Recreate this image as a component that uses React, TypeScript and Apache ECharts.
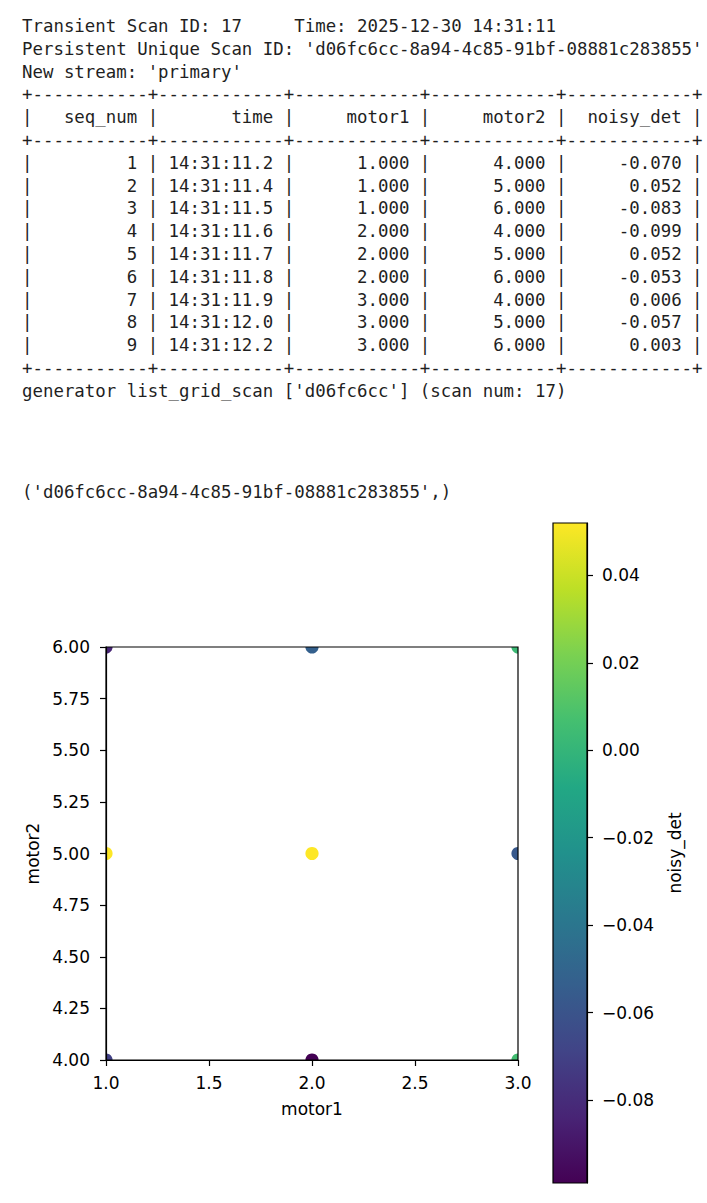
import React, { useEffect, useRef } from "react";
import * as echarts from "echarts";

// ---- data ----
const scanId = 17;
const scanTime = "2025-12-30 14:31:11";
const scanUid = "d06fc6cc-8a94-4c85-91bf-08881c283855";
const streamName = "primary";
const planName = "list_grid_scan";

const columnHeaders = ["seq_num", "time", "motor1", "motor2", "noisy_det"];
const seqNum = [1, 2, 3, 4, 5, 6, 7, 8, 9];
const times = [
  "14:31:11.2", "14:31:11.4", "14:31:11.5", "14:31:11.6", "14:31:11.7",
  "14:31:11.8", "14:31:11.9", "14:31:12.0", "14:31:12.2",
];
const motor1 = [1, 1, 1, 2, 2, 2, 3, 3, 3];
const motor2 = [4, 5, 6, 4, 5, 6, 4, 5, 6];
const noisyDet = [-0.07, 0.052, -0.083, -0.099, 0.052, -0.053, 0.006, -0.057, 0.003];

const colorbarTicks = [-0.08, -0.06, -0.04, -0.02, 0, 0.02, 0.04];

// viridis colormap stops
const viridis = [
  "#440154", "#482475", "#414487", "#355f8d", "#2a788e", "#21918c",
  "#22a884", "#44bf70", "#7ad151", "#bddf26", "#fde725",
];

// ---- layout constants ----
const W = 707;
const H = 1203;
const TEXT_LEFT = 22;
const CHAR_W = 10.47;
const LINE_H = 22.8;
const FIRST_LINE_Y = 26;
const MONO = '"DejaVu Sans Mono", monospace';
const SANS = '"DejaVu Sans", sans-serif';
const TEXT_COLOR = "#1f1f1f";

const colWidths = [11, 12, 12, 12, 12];

function buildLines(): string[] {
  const border = "+" + colWidths.map((w) => "-".repeat(w)).join("+") + "+";
  const header =
    "|" + columnHeaders.map((h, i) => h.padStart(colWidths[i] - 1) + " ").join("|") + "|";
  const rows = seqNum.map((s, r) => {
    const cells = [
      String(s),
      times[r],
      motor1[r].toFixed(3),
      motor2[r].toFixed(3),
      noisyDet[r].toFixed(3),
    ];
    return "|" + cells.map((c, i) => c.padStart(colWidths[i] - 1) + " ").join("|") + "|";
  });
  return [
    `Transient Scan ID: ${scanId}     Time: ${scanTime}`,
    `Persistent Unique Scan ID: '${scanUid}'`,
    `New stream: '${streamName}'`,
    border,
    header,
    border,
    ...rows,
    border,
    `generator ${planName} ['${scanUid.slice(0, 8)}'] (scan num: ${scanId})`,
  ];
}

function segments(line: string) {
  const out: { text: string; col: number }[] = [];
  const re = /\S+(?: \S+)*/g;
  let m: RegExpExecArray | null;
  while ((m = re.exec(line))) out.push({ text: m[0], col: m.index });
  return out;
}

export default function App() {
  const ref = useRef<HTMLDivElement>(null);

  useEffect(() => {
    if (!ref.current) return;
    const chart = echarts.init(ref.current, undefined, { renderer: "svg" });

    const graphics: any[] = [];
    const lines = buildLines();
    lines.forEach((line, i) => {
      segments(line).forEach((seg) => {
        graphics.push({
          type: "text",
          x: TEXT_LEFT + seg.col * CHAR_W,
          y: FIRST_LINE_Y + i * LINE_H,
          style: {
            text: seg.text,
            fontSize: 17.4,
            fontFamily: MONO,
            fill: TEXT_COLOR,
            verticalAlign: "middle",
          },
        });
      });
    });
    graphics.push({
      type: "text",
      x: TEXT_LEFT,
      y: 492,
      style: {
        text: `('${scanUid}',)`,
        fontSize: 17.4,
        fontFamily: MONO,
        fill: TEXT_COLOR,
        verticalAlign: "middle",
      },
    });

    const cbMin = Math.min(...noisyDet);
    const cbMax = Math.max(...noisyDet);
    const points = motor1.map((x, i) => [x, motor2[i], noisyDet[i]]);

    const labelStyle = { color: "#000", fontSize: 17, fontFamily: SANS };
    const axisCommon = {
      axisLine: { show: true, onZero: false, lineStyle: { color: "#000", width: 1.2 } },
      axisTick: { show: true, length: 6, lineStyle: { color: "#000", width: 1.2 } },
      splitLine: { show: false },
      nameTextStyle: { color: "#000", fontSize: 17, fontFamily: SANS },
      z: 10,
    };

    const fmtCb = (v: number) => {
      const s = Math.abs(v).toFixed(2);
      return v < -1e-9 ? "\u2212" + s : s;
    };

    chart.setOption({
      animation: false,
      graphic: graphics,
      grid: [
        {
          left: 106, top: 647, width: 412, height: 413,
          show: true, borderColor: "#000", borderWidth: 1.2, z: 10,
          backgroundColor: "transparent",
        },
        {
          left: 553, top: 523, width: 34, height: 660,
          show: true, borderColor: "#000", borderWidth: 1.2, z: 10,
          backgroundColor: "transparent",
        },
      ],
      xAxis: [
        {
          ...axisCommon,
          gridIndex: 0,
          type: "value",
          min: 1,
          max: 3,
          interval: 0.5,
          name: "motor1",
          nameLocation: "middle",
          nameGap: 40,
          axisLabel: { ...labelStyle, margin: 14, formatter: (v: number) => v.toFixed(1) },
        },
        { gridIndex: 1, type: "value", min: 0, max: 1, show: false },
      ],
      yAxis: [
        {
          ...axisCommon,
          gridIndex: 0,
          type: "value",
          min: 4,
          max: 6,
          interval: 0.25,
          name: "motor2",
          nameLocation: "middle",
          nameGap: 57,
          axisLabel: { ...labelStyle, margin: 16, formatter: (v: number) => v.toFixed(2) },
        },
        {
          ...axisCommon,
          gridIndex: 1,
          type: "value",
          position: "right",
          min: cbMin,
          max: cbMax,
          name: "noisy_det",
          nameLocation: "middle",
          nameRotate: 90,
          nameGap: 79,
          axisTick: { ...axisCommon.axisTick, customValues: colorbarTicks },
          axisLabel: { ...labelStyle, margin: 15, customValues: colorbarTicks, formatter: fmtCb },
        },
      ],
      visualMap: {
        type: "continuous",
        show: false,
        min: cbMin,
        max: cbMax,
        dimension: 2,
        seriesIndex: 0,
        inRange: { color: viridis },
      },
      series: [
        {
          type: "custom",
          xAxisIndex: 0,
          yAxisIndex: 0,
          clip: true,
          data: points,
          encode: { x: 0, y: 1 },
          renderItem: (params: any, api: any) => {
            const p = api.coord([api.value(0), api.value(1)]);
            return {
              type: "circle",
              shape: { cx: p[0], cy: p[1], r: 6.6 },
              style: { fill: api.visual("color") },
            };
          },
        },
        {
          type: "custom",
          xAxisIndex: 1,
          yAxisIndex: 1,
          clip: true,
          data: [[0.5, cbMin, cbMax]],
          encode: { x: 0, y: [1, 2] },
          renderItem: (params: any, api: any) => {
            const cs = params.coordSys;
            const top = api.coord([0.5, api.value(2)]);
            const bot = api.coord([0.5, api.value(1)]);
            return {
              type: "rect",
              shape: { x: cs.x, y: top[1], width: cs.width, height: bot[1] - top[1] },
              style: {
                fill: new echarts.graphic.LinearGradient(
                  0, 1, 0, 0,
                  viridis.map((c, i) => ({ offset: i / (viridis.length - 1), color: c }))
                ),
              },
            };
          },
        },
      ],
    });

    return () => chart.dispose();
  }, []);

  return (
    <div
      ref={ref}
      style={{ position: "absolute", left: 0, top: 0, width: W, height: H, background: "#fff" }}
    />
  );
}
